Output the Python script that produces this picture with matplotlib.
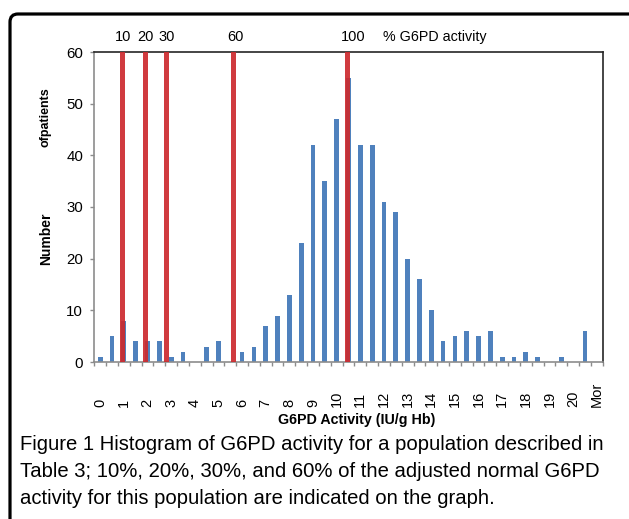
import numpy as np
import matplotlib
matplotlib.use("Agg")
import matplotlib.pyplot as plt
from matplotlib.patches import FancyBboxPatch

plt.rcParams["font.family"] = ["Liberation Sans", "DejaVu Sans"]

# ---- data ----
# histogram bins 0, 0.5, ..., 20.5 and "More"
bin_values = [i * 0.5 for i in range(42)] + ["More"]
counts = [1, 5, 8, 4, 4, 4, 1, 2, 0, 3,
          4, 0, 2, 3, 7, 9, 13, 23, 42, 35,
          47, 55, 42, 42, 31, 29, 20, 16, 10, 4,
          5, 6, 5, 6, 1, 1, 2, 1, 0, 1,
          0, 6, 0]
tick_labels = [str(v) for v in range(21)] + ["Mor"]
pct_labels = ["10", "20", "30", "60", "100"]
pct_line_pos = [1.84, 3.75, 5.58, 11.19, 20.87]   # position on category axis
y_ticks = [0, 10, 20, 30, 40, 50, 60]

BLUE = "#4F81BD"
RED = "#CC2A2E"
GRAY = "#8C8C8C"

W, H = 629, 519
fig = plt.figure(figsize=(W / 100, H / 100), dpi=100)
fig.patch.set_facecolor("white")

ax_l, ax_r, ax_t, ax_b = 94.3, 602.7, 52.0, 362.0
ax = fig.add_axes([ax_l / W, 1 - ax_b / H, (ax_r - ax_l) / W, (ax_b - ax_t) / H])

x = np.arange(len(counts))
ax.bar(x, counts, width=0.4, color=BLUE, zorder=2)
ax.set_xlim(-0.5, len(counts) - 0.5)
ax.set_ylim(0, 60)
ax.set_yticks(y_ticks)
ax.set_yticklabels([str(v) for v in y_ticks], fontsize=10.8)

# x tick labels every other category
ax.set_xticks(np.arange(0, len(counts), 2))
ax.set_xticklabels(tick_labels, rotation=90, va="bottom", ha="center", fontsize=10.5)
ax.set_xticks(np.arange(-0.5, len(counts), 1), minor=True)
ax.tick_params(axis="x", which="major", length=0, pad=32.4)
ax.tick_params(axis="x", which="minor", length=3, color=GRAY, width=1)
ax.tick_params(axis="y", length=3, color=GRAY, width=1, pad=5)

for s in ["left", "bottom"]:
    ax.spines[s].set_color(GRAY)
    ax.spines[s].set_linewidth(1.2)
for s in ["top", "right"]:
    ax.spines[s].set_color("#262626")
    ax.spines[s].set_linewidth(1.2)

# red percentage lines
offsets = [1, 0.5, 0.5, 2, 4.75]
for lbl, p, dx in zip(pct_labels, pct_line_pos, offsets):
    ax.axvline(p, color=RED, lw=3.6, alpha=0.92, zorder=3)
    ax.annotate(lbl, (p, 1), xycoords=("data", "axes fraction"),
                xytext=(dx, 11), textcoords="offset points",
                ha="center", va="center", fontsize=10.5, annotation_clip=False)
ax.annotate("% G6PD activity", (pct_line_pos[-1], 1), xycoords=("data", "axes fraction"),
            xytext=(26, 11), textcoords="offset points",
            ha="left", va="center", fontsize=10.3, annotation_clip=False)

# axis labels
fig.text(46 / W, 1 - 239 / H, "Number", rotation=90, fontweight="bold",
         fontsize=10, ha="center", va="center")
fig.text(46 / W, 1 - 117 / H, "ofpatients", rotation=90, fontweight="bold",
         fontsize=9, ha="center", va="center")
fig.text(357 / W, 1 - 420 / H, "G6PD Activity (IU/g Hb)", fontweight="bold",
         fontsize=10.3, ha="center", va="center")

# caption
caption = ["Figure 1 Histogram of G6PD activity for a population described in",
           "Table 3; 10%, 20%, 30%, and 60% of the adjusted normal G6PD",
           "activity for this population are indicated on the graph."]
for i, line in enumerate(caption):
    fig.text(20 / W, 1 - (445 + 26.5 * i) / H, line, fontsize=14.6,
             ha="left", va="center")

# rounded border (cut off at right and bottom)
border = FancyBboxPatch((0.10, -0.3), 6.30, 5.35,
                        boxstyle="round,pad=0,rounding_size=0.08",
                        transform=fig.dpi_scale_trans, fill=False,
                        edgecolor="black", linewidth=2.3)
fig.add_artist(border)

fig.savefig("out.png", dpi=100)
